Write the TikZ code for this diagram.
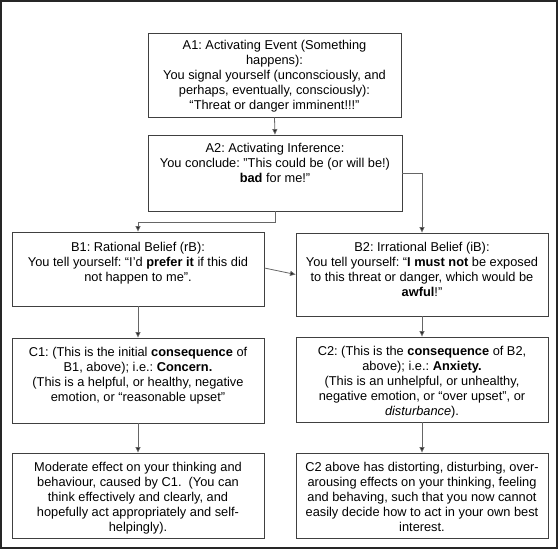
\documentclass[tikz,border=0pt]{standalone}
\usepackage{fontspec}
\setmainfont{Liberation Sans}
\usetikzlibrary{arrows.meta}
\frenchspacing
\begin{document}
\begin{tikzpicture}[x=1pt,y=-1pt,
 box/.style={draw=black!75, line width=0.9pt, inner sep=0pt},
 txt/.style={anchor=north, align=center, inner sep=0pt, font=\fontsize{12.8}{15}\selectfont, text=black},
 conn/.style={draw=black!60, line width=0.8pt, -{Triangle[length=5.5pt,width=5pt,fill=black!85]}}]
\useasboundingbox (0,0) rectangle (560,550);
\draw[line width=2pt, black!85] (1,1) rectangle (557,548);
% boxes
\node[box, minimum width=253pt, minimum height=84pt] (A1) at (274.5,75) {};
\node[box, minimum width=254pt, minimum height=76pt] (A2) at (275,173) {};
\node[box, minimum width=252pt, minimum height=74pt] (B1) at (138,269) {};
\node[box, minimum width=252pt, minimum height=83pt] (B2) at (422,274.5) {};
\node[box, minimum width=252pt, minimum height=85pt] (C1) at (138,380.5) {};
\node[box, minimum width=252pt, minimum height=85pt] (C2) at (422,379.5) {};
\node[box, minimum width=252pt, minimum height=85pt] (D1) at (138,495.5) {};
\node[box, minimum width=252pt, minimum height=85pt] (D2) at (422,495.5) {};
% texts
\node[txt] (A1t) at (274.5,40) {A1: Activating Event (Something\\ happens):\\ You signal yourself (unconsciously, and\\ perhaps, eventually, consciously):\\ “Threat or danger imminent!!!”};
\node[txt] (A2t) at (275,143) {A2: Activating Inference:\\ You conclude: "This could be (or will be!)\\ \textbf{bad} for me!"};
\node[txt] (B1t) at (138,242) {B1: Rational Belief (rB):\\ You tell yourself: “I’d \textbf{prefer it} if this did\\ not happen to me”.};
\node[txt] (B2t) at (422,242) {B2: Irrational Belief (iB):\\ You tell yourself: “\textbf{I must not} be exposed\\ to this threat or danger, which would be\\ \textbf{awful}!”};
\node[txt] (C1t) at (138,347) {C1: (This is the initial \textbf{consequence} of\\ B1, above); i.e.: \textbf{Concern.}\\ (This is a helpful, or healthy, negative\\ emotion, or “reasonable upset”};
\node[txt] (C2t) at (422,346) {C2: (This is the \textbf{consequence} of B2,\\ above); i.e.: \textbf{Anxiety.}\\ (This is an unhelpful, or unhealthy,\\ negative emotion, or “over upset”, or\\ \textit{disturbance}).};
\node[txt] (D1t) at (138,462) {Moderate effect on your thinking and\\ behaviour, caused by C1.\ \ (You can\\ think effectively and clearly, and\\ hopefully act appropriately and self-\\ helpingly).};
\node[txt] (D2t) at (422,462) {C2 above has distorting, disturbing, over-\\ arousing effects on your thinking, feeling\\ and behaving, such that you now cannot\\ easily decide how to act in your own best\\ interest.};
% connectors
\draw[conn] (A1.south) -- (A2.north);
\draw[conn] (A2.south) -- ++(0,11) -| (B1.north);
\draw[conn] (A2.east) -| (B2.north);
\draw[conn] ([yshift=1pt]B1.east) -- (B2.west);
\draw[conn] (B1.south) -- (C1.north);
\draw[conn] (B2.south) -- (C2.north);
\draw[conn] (C1.south) -- (D1.north);
\draw[conn] (C2.south) -- (D2.north);
\end{tikzpicture}
\end{document}
